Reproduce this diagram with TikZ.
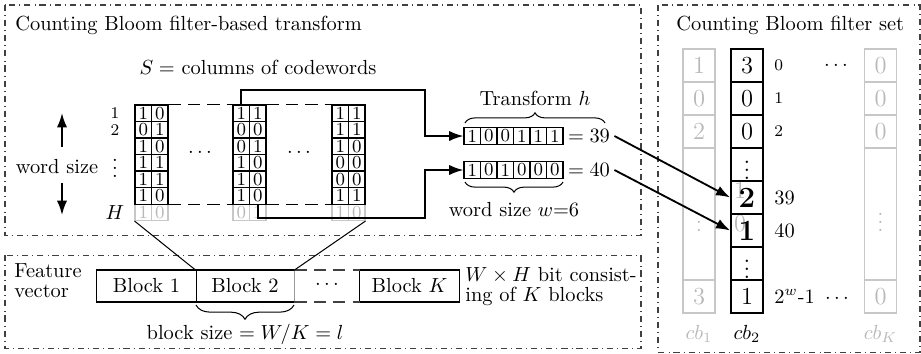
\documentclass[tikz,border=0pt]{standalone}
\usetikzlibrary{arrows.meta,decorations.pathreplacing,calc}
\newcommand\cwgroup[3]{%
  \foreach \rw/\da/\db in {#3}{%
    \node[cw] (#1-\rw-0) at (#2+8.25,113.25+16.5*\rw) {\da};
    \node[cw] (#1-\rw-1) at (#2+24.75,113.25+16.5*\rw) {\db};
  }%
  \draw[line width=0.9pt] (#1-0-0.north west) rectangle (#1-5-1.south east);
}
\newcommand\cwghostrow[4]{%
  \node[cwghost] (#1-6-0) at (#2+8.25,212.25) {#3};
  \node[cwghost] (#1-6-1) at (#2+24.75,212.25) {#4};
}
\begin{document}
\begin{tikzpicture}[x=0.49pt,y=-0.49pt,
  panel/.style={draw=black!75,dash dot,line width=0.5pt},
  cw/.style={draw,line width=0.5pt,minimum width=8.085pt,minimum height=8.085pt,inner sep=0pt,font=\small},
  cwghost/.style={cw,draw=black!22,text=black!28},
  conn/.style={line width=0.9pt},
  arr/.style={conn,-{Latex[length=7pt,width=5pt]}},
  gdash/.style={line width=0.8pt,dash pattern=on 6pt off 3.5pt},
  cb/.style={draw,line width=0.7pt,minimum width=15.7pt,minimum height=16.17pt,inner sep=0pt,font=\large},
  cbg/.style={cb,draw=black!22,text=black!28,line width=0.6pt},
  blk/.style={minimum height=15.2pt,inner sep=0pt},
  brc/.style={decorate,decoration={brace,amplitude=5pt},line width=0.5pt},
  brcb/.style={decorate,decoration={brace,amplitude=7pt},line width=0.5pt},
  lbl/.style={inner sep=0pt},
  tight/.style={font=\fontsize{10}{9.8}\selectfont},
]
\useasboundingbox (0,0) rectangle (921,353);

% panels
\draw[panel] (5,5) rectangle (641,235);
\draw[panel] (5,255) rectangle (641,348);
\draw[panel] (658,5) rectangle (920,352);

% ---------- top-left panel ----------
\node[lbl,anchor=west] (t1) at (15,25) {Counting Bloom filter-based transform};
\node[lbl] (scw) at (258,67) {$S=$ columns of codewords};

\cwghostrow{g1}{135}{1}{0}
\cwghostrow{g2}{233}{0}{1}
\cwghostrow{g3}{332}{1}{0}
\cwgroup{g1}{135}{0/1/0,1/0/1,2/1/0,3/1/1,4/1/1,5/1/0}
\cwgroup{g2}{233}{0/1/1,1/0/0,2/0/1,3/1/0,4/1/0,5/1/0}
\cwgroup{g3}{332}{0/1/1,1/1/1,2/1/0,3/0/0,4/0/0,5/1/1}

\draw[gdash] (g1-0-1.north east) -- (g2-0-0.north west);
\draw[gdash] (g2-0-1.north east) -- (g3-0-0.north west);
\draw[gdash] (g1-5-1.south east) -- (g2-5-0.south west);
\draw[gdash] (g2-5-1.south east) -- (g3-5-0.south west);

\node[lbl] (gd1) at (200,153) {$\cdots$};
\node[lbl] (gd2) at (299,153) {$\cdots$};

\node[lbl,font=\footnotesize] (rl1) at (115,113) {1};
\node[lbl,font=\footnotesize] (rl2) at (115,130) {2};
\node[lbl] (rlv) at (115,162) {$\vdots$};
\node[lbl] (rlH) at (115,213) {$H$};

\node[lbl] (ws) at (57,167) {word size};
\coordinate (wsA) at (62,147);
\coordinate (wsB) at (62,113);
\coordinate (wsC) at (62,183);
\coordinate (wsD) at (62,215);
\draw[arr] (wsA) -- (wsB);
\draw[arr] (wsC) -- (wsD);

% transform words
\foreach \i/\d in {0/1,1/0,2/0,3/1,4/1,5/1}
  \node[cw] (ta-\i) at (472.25+16.5*\i,136) {\d};
\foreach \i/\d in {0/1,1/0,2/1,3/0,4/0,5/0}
  \node[cw] (tb-\i) at (472.25+16.5*\i,170) {\d};
\node[anchor=west,inner sep=2pt] (eqa) at (ta-5.east) {$=39$};
\node[anchor=west,inner sep=2pt] (eqb) at (tb-5.east) {$=40$};

\coordinate (brA1) at (465,123);
\coordinate (brA2) at (605,123);
\draw[brc] (brA1) -- (brA2);
\node[lbl] (trh) at (535,98) {Transform $h$};
\coordinate (brB1) at (563,182);
\coordinate (brB2) at (465,182);
\draw[brc] (brB1) -- (brB2);
\node[lbl] (wsw) at (514,210) {word size $w$=6};

\coordinate (bendA) at (425,90);
\coordinate (bendB) at (425,218);
\draw[arr] (g2-0-0.north) |- (bendA) |- (ta-0.west);
\draw[arr] (g2-5-1.south) |- (bendB) |- (tb-0.west);

% ---------- bottom panel ----------
\node[lbl,anchor=west,align=left,tight] (fv) at (14,281) {Feature\\vector};
\node[blk,minimum width=48.5pt] (b1) at (146.5,286) {Block 1};
\node[blk,minimum width=48pt] (b2) at (245,286) {Block 2};
\node[blk,minimum width=48.5pt] (bK) at (409.5,286) {Block $K$};
\draw[line width=0.6pt] (b1.north west) rectangle (b1.south east);
\draw[line width=0.6pt] (b2.north west) -- (b2.north east);
\draw[line width=0.6pt,black!40] (b2.north east) -- (b2.south east);
\draw[line width=0.9pt] (b1.south west) -- (b2.south east);
\draw[line width=0.6pt] (bK.north west) rectangle (bK.south east);
\draw[gdash,line width=0.6pt,black!75] (b2.north east) -- (bK.north west);
\draw[gdash,line width=0.6pt,black!75] (b2.south east) -- (bK.south west);
\node[lbl] (bdots) at (327,285) {$\cdots$};
\node[lbl,anchor=west,align=left,tight] (wh) at (465,287) {$W\times H$ bit consist-\\ing of $K$ blocks};
\coordinate (bbr1) at (294,305);
\coordinate (bbr2) at (196,305);
\draw[brcb] (bbr1) -- (bbr2);
\node[lbl] (bs) at (245,334) {block size $=W/K=l$};

\draw[line width=0.5pt] (g1-6-0.south west) -- (b2.north west);
\draw[line width=0.5pt] (g3-6-1.south east) -- (b2.north east);

% ---------- right panel ----------
\node[lbl,anchor=west] (t3) at (676,25) {Counting Bloom filter set};

\foreach \rw/\d in {0/1,1/0,2/2,7/3}
  \node[cbg] (c1-\rw) at (699,65.5+33*\rw) {\d};
\node[cbg,minimum height=64.68pt] (c1-big) at (699,214) {};
\node[lbl,text=black!28] (c1-v) at (699,216) {$\vdots$};

\foreach \rw/\d in {0/0,1/0,2/0,7/0}
  \node[cbg] (cK-\rw) at (880.5,65.5+33*\rw) {\d};
\node[cbg,minimum height=64.68pt] (cK-big) at (880.5,214) {};
\node[lbl,text=black!28] (cK-v) at (880.5,216) {$\vdots$};

\node[lbl,font=\large,text=black!28] (o1) at (740,190) {1};
\node[lbl,font=\large,text=black!28] (o0) at (740,224) {0};
\foreach \rw/\d in {0/3,1/0,2/0,3/\vdots,6/\vdots,7/1}
  \node[cb] (c2-\rw) at (747,65.5+33*\rw) {\d};
\node[cb,font=\Large\bfseries] (c2-4) at (747,197.5) {2};
\node[cb,font=\Large\bfseries] (c2-5) at (747,230.5) {1};

\node[lbl,anchor=west,font=\footnotesize] (i0) at (774,65.5) {0};
\node[lbl,anchor=west,font=\footnotesize] (i1) at (774,98.5) {1};
\node[lbl,anchor=west,font=\footnotesize] (i2) at (774,131.5) {2};
\node[lbl,anchor=west] (i39) at (774,197.5) {39};
\node[lbl,anchor=west] (i40) at (774,230.5) {40};
\node[lbl,anchor=west] (iw) at (774,296.5) {$2^w$-1\, $\cdots$};
\node[lbl] (idots) at (836,65.5) {$\cdots$};

\node[lbl,text=black!28] (l1) at (699,334) {$cb_1$};
\node[lbl] (l2) at (747,334) {$cb_2$};
\node[lbl,text=black!28] (lK) at (880.5,334) {$cb_K$};

\draw[arr] (eqa.east) -- (c2-4.west);
\draw[arr] (eqb.east) -- (c2-5.west);
\end{tikzpicture}
\end{document}
